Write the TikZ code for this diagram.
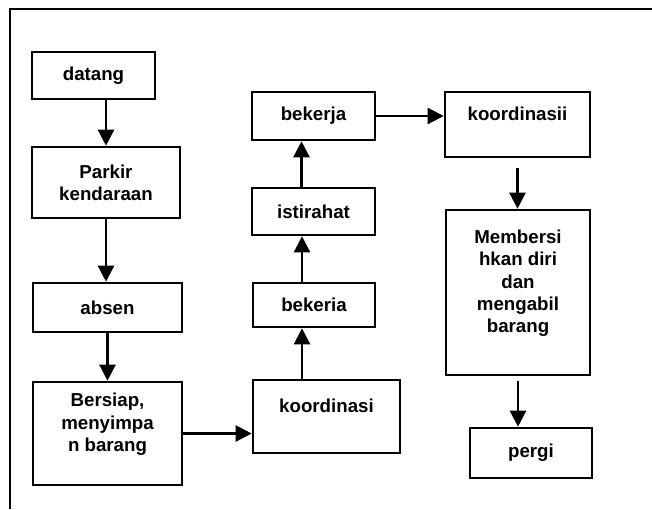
\documentclass[tikz,border=0pt]{standalone}
\usepackage{fontspec}
\setmainfont{Liberation Sans}
\usetikzlibrary{arrows.meta}

\begin{document}
\begin{tikzpicture}[x=1pt, y=-1pt,
		box/.style={draw, rectangle, line width=2.6pt, inner sep=0pt, align=center, font=\fontsize{18.7}{22.3}\selectfont\bfseries},
		flow/.style={->, >={Triangle[length=16pt, width=16pt]}, line width=2.4pt}]
		\useasboundingbox (0,0) rectangle (652,509);
		% Frame
		\draw[line width=2.4pt] (10,509) -- (10,9) -- (652,9);
		% Nodes
		\node[box, minimum width=123pt, minimum height=47pt] (datang) at (93.5,75.5) {datang};
		\node[box, minimum width=148pt, minimum height=71pt] (parkir) at (106,182.5) {Parkir\\kendaraan};
		\node[box, minimum width=149pt, minimum height=49pt] (absen) at (107.5,307.5) {absen};
		\node[box, minimum width=149pt, minimum height=103pt] (bersiap) at (107.5,433.5) {Bersiap,\\menyimpa\\n barang\\ ~};
		\node[box, minimum width=147pt, minimum height=73pt] (koord1) at (326.5,416.5) {koordinasi\\ ~};
		\node[box, minimum width=122pt, minimum height=44pt] (bekeria) at (314,305) {bekeria};
		\node[box, minimum width=123pt, minimum height=47pt] (istirahat) at (313.5,211.5) {istirahat};
		\node[box, minimum width=123pt, minimum height=48pt] (bekerja) at (313.5,116) {bekerja};
		\node[box, minimum width=145pt, minimum height=65pt] (koord2) at (517.5,124.5) {koordinasii\\ ~};
		\node[box, minimum width=144pt, minimum height=165pt] (bersih) at (518,292.5) {Membersi\\hkan diri\\dan\\mengabil\\barang\\ ~};
		\node[box, minimum width=122pt, minimum height=50pt] (pergi) at (531,453) {pergi};
		% Arrows
		\draw[flow] (datang.south -| parkir.north) -- (parkir.north);
		\draw[flow] (parkir.south) -- (parkir.south |- absen.north);
		\draw[flow] (absen.south) -- (bersiap.north);
		\draw[flow] (bersiap.east) -- (bersiap.east -| koord1.west);
		\draw[flow] ([xshift=-12pt]bekeria.south |- koord1.north) -- ([xshift=-12pt]bekeria.south);
		\draw[flow] ([xshift=-12pt]bekeria.north) -- ([xshift=-12pt]bekeria.north |- istirahat.south);
		\draw[flow] ([xshift=-12pt]istirahat.north) -- ([xshift=-12pt]istirahat.north |- bekerja.south);
		\draw[flow] (bekerja.east) -- (bekerja.east -| koord2.west);
		\draw[flow] ([yshift=-10pt]koord2.south) -- (koord2.south |- bersih.north);
		\draw[flow] ([yshift=-5pt]bersih.south) -- (bersih.south |- pergi.north);
	\end{tikzpicture}
\end{document}
